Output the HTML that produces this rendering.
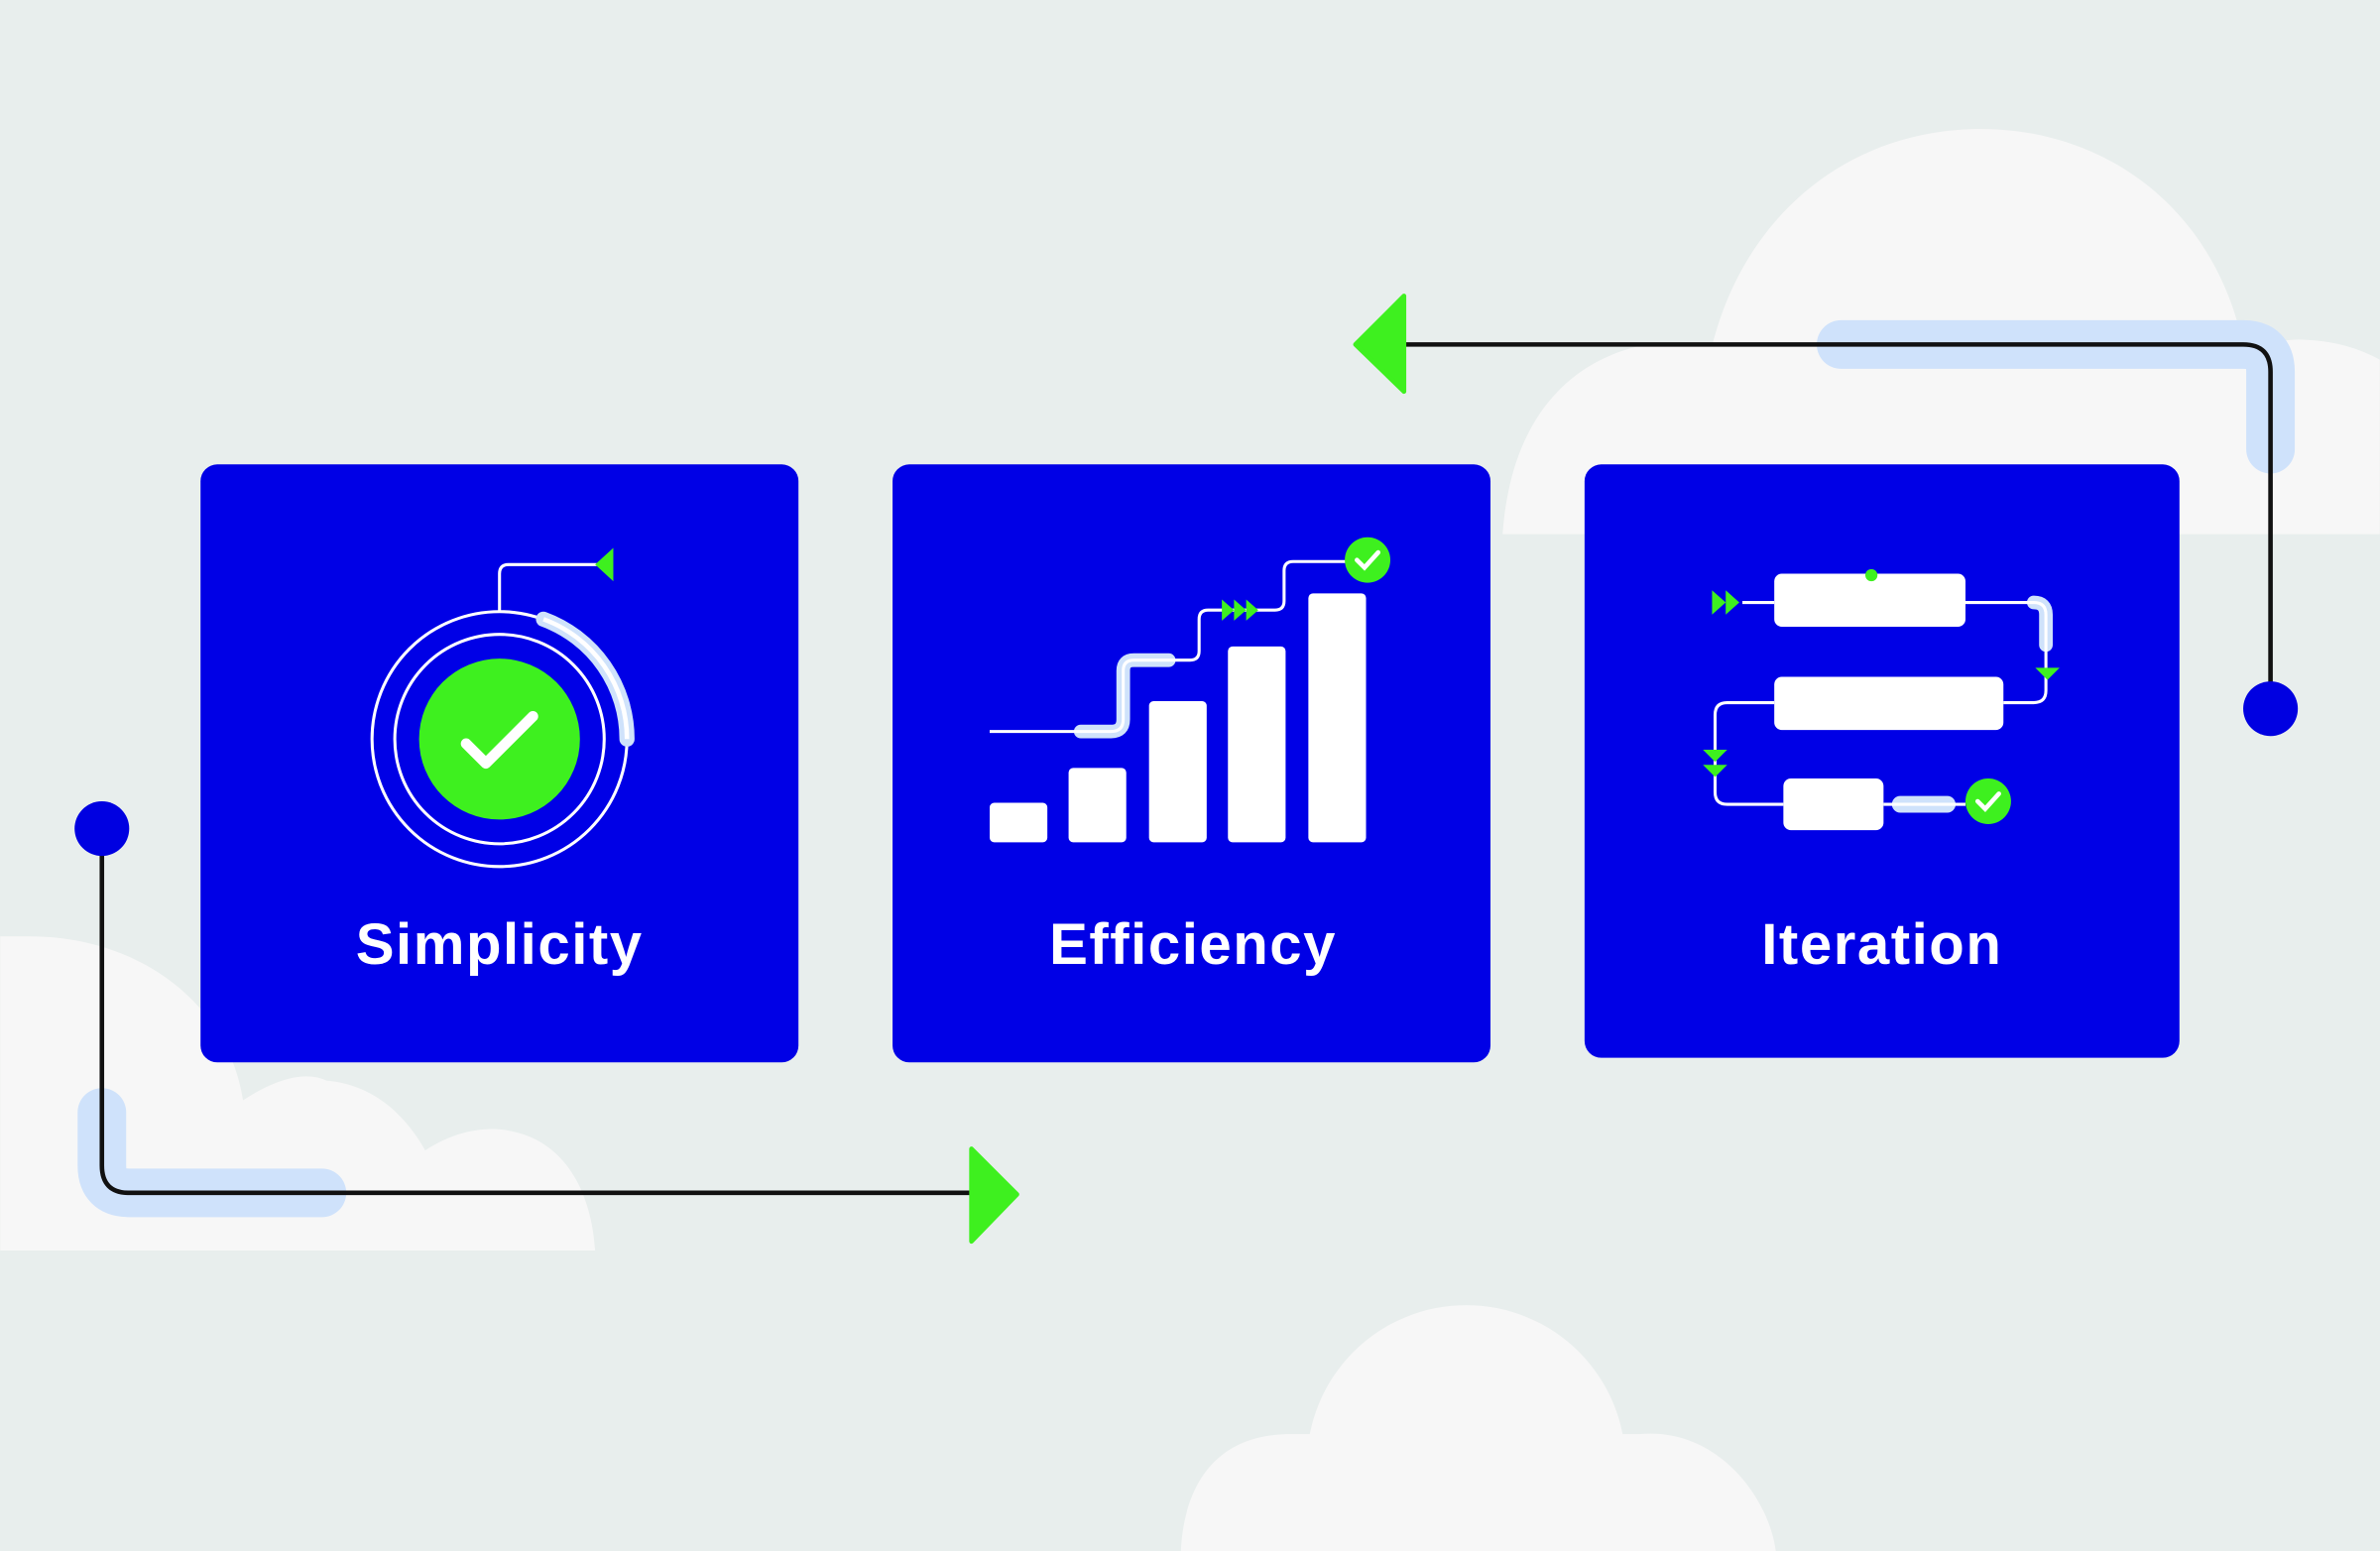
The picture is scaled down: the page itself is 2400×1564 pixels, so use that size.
<!DOCTYPE html>
<html><head><meta charset="utf-8"><style>
html,body{margin:0;padding:0;background:#e8eeed;}
svg{display:block}
text{font-family:"Liberation Sans",sans-serif;font-weight:bold;fill:#fff;font-size:38px;text-anchor:middle;letter-spacing:1px}
</style></head><body>
<svg width="2400" height="1564" viewBox="0 0 1568 1022" xmlns="http://www.w3.org/2000/svg">
<rect width="1568" height="1022" fill="#e8eeed"/>
<g fill="#f7f7f7">
  <!-- top right cloud -->
  <path d="M1128 228 C1150 140 1220 85 1305 85 C1390 85 1460 140 1478 228 Z"/>
  <path d="M990 352 C995 280 1030 240 1080 228 L1490 228 C1500 225 1510 223 1520 224 C1540 225 1555 230 1568 237 L1568 352 Z"/>
  <!-- bottom left cloud -->
  <path d="M0 617 L20 617 C90 617 150 660 160 725 C180 712 200 705 215 712 C250 715 270 740 280 758 C300 745 320 742 335 745 C375 752 390 790 392 824 L0 824 Z"/>
  <!-- bottom cloud -->
  <circle cx="966" cy="965" r="105"/>
  <path d="M778 1022 C780 980 800 945 850 945 L1080 945 C1130 940 1165 985 1170 1022 Z"/>
</g>
<!-- connectors -->
<path d="M1213 227 L1478 227 Q1496 227 1496 245 L1496 296" fill="none" stroke="#cfe2fb" stroke-width="32" stroke-linecap="round"/>
<path d="M925 227 L1478 227 Q1496 227 1496 245 L1496 467" fill="none" stroke="#111" stroke-width="3"/>
<circle cx="1496" cy="467" r="18" fill="#0000e1"/>
<path d="M925 195 L893 227 L925 258 Z" fill="#3ef01f" stroke="#3ef01f" stroke-width="3" stroke-linejoin="round"/>
<path d="M67 733 L67 768 Q67 786 85 786 L212 786" fill="none" stroke="#cfe2fb" stroke-width="32" stroke-linecap="round"/>
<path d="M67 546 L67 768 Q67 786 85 786 L640 786" fill="none" stroke="#111" stroke-width="3"/>
<circle cx="67" cy="546" r="18" fill="#0000e1"/>
<path d="M640 757 L670 787 L640 818 Z" fill="#3ef01f" stroke="#3ef01f" stroke-width="3" stroke-linejoin="round"/>
<!-- cards -->
<rect x="132" y="306" width="394" height="394" rx="11" fill="#0000e6"/>
<rect x="588" y="306" width="394" height="394" rx="11" fill="#0000e6"/>
<rect x="1044" y="306" width="392" height="391" rx="11" fill="#0000e6"/>
<text x="329" y="635">Simplicity</text>
<text x="786" y="635">Efficiency</text>
<text x="1240" y="635">Iteration</text>
<!-- card1 icon -->
<g fill="none" stroke="#fff" stroke-width="2">
  <circle cx="329" cy="487" r="84"/>
  <circle cx="329" cy="487" r="69"/>
  <path d="M329 403 L329 378 Q329 372 335 372 L393 372"/>
</g>
<path d="M358 408 A84 84 0 0 1 413 487" fill="none" stroke="#cfe2fb" stroke-width="10" stroke-linecap="round"/>
<path d="M358 408 A84 84 0 0 1 413 487" fill="none" stroke="#fff" stroke-width="3"/>
<circle cx="329" cy="487" r="53" fill="#3ef01f"/>
<path d="M307 490 L320 503 L351 472" fill="none" stroke="#fff" stroke-width="7" stroke-linecap="round" stroke-linejoin="round"/>
<path d="M404 361 L392 372 L404 383 Z" fill="#3ef01f"/>
<!-- card2 icon -->
<g fill="#fff">
  <rect x="652" y="529" width="38" height="26" rx="3"/>
  <rect x="704" y="506" width="38" height="49" rx="3"/>
  <rect x="757" y="462" width="38" height="93" rx="3"/>
  <rect x="809" y="426" width="38" height="129" rx="3"/>
  <rect x="862" y="391" width="38" height="164" rx="3"/>
</g>
<path d="M712 482 L732 482 Q740 482 740 474 L740 442 Q740 435 747 435 L770 435" fill="none" stroke="#cfe2fb" stroke-width="9" stroke-linecap="round"/>
<path d="M652 482 L732 482 Q740 482 740 474 L740 442 Q740 435 747 435 L784 435 Q790 435 790 429 L790 408 Q790 402 796 402 L840 402 Q846 402 846 396 L846 376 Q846 370 852 370 L888 370" fill="none" stroke="#fff" stroke-width="2"/>
<g fill="#3ef01f">
  <path d="M805 395 L813 402 L805 409 Z"/><path d="M813 395 L821 402 L813 409 Z"/><path d="M821 395 L829 402 L821 409 Z"/>
  <circle cx="901" cy="369" r="15"/>
</g>
<path d="M894 369 L899 374 L908 364" fill="none" stroke="#fff" stroke-width="3" stroke-linecap="round"/>
<!-- card3 icon -->
<g fill="#fff">
  <rect x="1169" y="378" width="126" height="35" rx="5"/>
  <rect x="1169" y="446" width="151" height="35" rx="5"/>
  <rect x="1175" y="513" width="66" height="34" rx="5"/>
</g>
<path d="M1340 397 Q1348 397 1348 405 L1348 425" fill="none" stroke="#cfe2fb" stroke-width="9" stroke-linecap="round"/>
<path d="M1252 530 L1283 530" stroke="#cfe2fb" stroke-width="11" stroke-linecap="round"/>
<g fill="none" stroke="#fff" stroke-width="2">
  <path d="M1148 397 L1169 397"/>
  <path d="M1295 397 L1340 397 Q1348 397 1348 405 L1348 455 Q1348 463 1340 463 L1320 463"/>
  <path d="M1169 463 L1138 463 Q1130 463 1130 471 L1130 522 Q1130 530 1138 530 L1175 530"/>
  <path d="M1241 530 L1295 530"/>
</g>
<g fill="#3ef01f">
  <path d="M1128 389 L1137 397 L1128 405 Z"/><path d="M1137 389 L1146 397 L1137 405 Z"/>
  <path d="M1341 440 L1357 440 L1349 448 Z"/>
  <path d="M1122 494 L1138 494 L1130 502 Z"/><path d="M1122 504 L1138 504 L1130 512 Z"/>
  <circle cx="1233" cy="379" r="4"/>
  <circle cx="1310" cy="528" r="15"/>
</g>
<path d="M1303 528 L1308 533 L1317 523" fill="none" stroke="#fff" stroke-width="3" stroke-linecap="round"/>
</svg>
</body></html>
